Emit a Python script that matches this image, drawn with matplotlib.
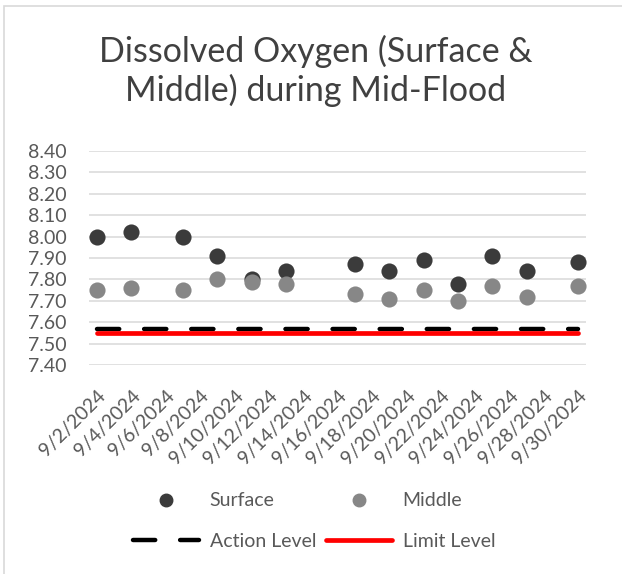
import matplotlib
matplotlib.use("Agg")
import matplotlib.pyplot as plt
import matplotlib.dates as mdates
import matplotlib.ticker as ticker
from matplotlib.lines import Line2D
from matplotlib.patches import Rectangle
from datetime import datetime, timedelta

plt.rcParams['font.family'] = ['Lato', 'DejaVu Sans']

# sampling dates and DO readings (mg/L)
sample_dates = ['2024-09-02', '2024-09-04', '2024-09-07', '2024-09-09', '2024-09-11',
                '2024-09-13', '2024-09-17', '2024-09-19', '2024-09-21', '2024-09-23',
                '2024-09-25', '2024-09-27', '2024-09-30']
surface = [8.00, 8.02, 8.00, 7.91, 7.80, 7.84, 7.87, 7.84, 7.89, 7.78, 7.91, 7.84, 7.88]
middle = [7.75, 7.76, 7.75, 7.80, 7.79, 7.78, 7.73, 7.71, 7.75, 7.70, 7.77, 7.72, 7.77]

level_dates = ['2024-09-02', '2024-09-30']
action_level = [7.57, 7.57]
limit_level = [7.55, 7.55]

tick_dates = [datetime(2024, 9, 2) + timedelta(days=2 * i) for i in range(15)]
tick_labels = [f"{d.month}/{d.day}/{d.year}" for d in tick_dates]

y_ticks = [7.40, 7.50, 7.60, 7.70, 7.80, 7.90, 8.00, 8.10, 8.20, 8.30, 8.40]

x = [datetime.strptime(d, '%Y-%m-%d') for d in sample_dates]
xl = [datetime.strptime(d, '%Y-%m-%d') for d in level_dates]

text_col = '#595959'
grid_col = '#d9d9d9'

fig = plt.figure(figsize=(6.22, 5.74), dpi=100)
ax = fig.add_axes([89 / 622, 1 - 365 / 574, (586 - 89) / 622, (365 - 151) / 574])

ax.scatter(x, surface, s=135, color='#3b3b3b', zorder=3, linewidths=0)
ax.scatter(x, middle, s=135, color='#878787', zorder=3, linewidths=0)
ax.plot(xl, action_level, color='black', lw=3.2, linestyle=(0, (5, 5.6)),
        dash_capstyle='round', solid_capstyle='round', zorder=4)
ax.plot(xl, limit_level, color='#ff0000', lw=3.4, solid_capstyle='round', zorder=5)

ax.set_xlim(mdates.date2num(datetime(2024, 9, 2)) - 0.47,
            mdates.date2num(datetime(2024, 9, 30)) + 0.45)
ax.set_ylim(7.40, 8.40)
ax.set_yticks(y_ticks)
ax.yaxis.set_major_formatter(ticker.FormatStrFormatter('%.2f'))
ax.set_xticks(mdates.date2num(tick_dates))
ax.set_xticklabels(tick_labels, rotation=45, ha='right', va='top',
                   rotation_mode='anchor')

ax.grid(axis='y', color=grid_col, lw=1.1)
ax.set_axisbelow(True)
for s in ax.spines.values():
    s.set_visible(False)
ax.tick_params(axis='both', length=0, colors=text_col, labelsize=14)
ax.tick_params(axis='y', pad=16)
ax.tick_params(axis='x', pad=16)

fig.text(0.507, 1 - 71 / 574, 'Dissolved Oxygen (Surface &\nMiddle) during Mid-Flood',
         ha='center', va='center', fontsize=24.5, color='#404040', linespacing=1.22)

handles = [
    Line2D([], [], marker='o', ls='none', color='#3b3b3b', markersize=9, label='Surface'),
    Line2D([], [], color='black', lw=3.2, linestyle=(0, (5, 5.6)),
           dash_capstyle='round', label='Action Level'),
    Line2D([], [], marker='o', ls='none', color='#878787', markersize=9, label='Middle'),
    Line2D([], [], color='#ff0000', lw=3.4, solid_capstyle='round', label='Limit Level'),
]
leg = fig.legend(handles=handles, ncol=2, loc='center',
                 bbox_to_anchor=(314 / 622, 1 - 521 / 574), frameon=False,
                 fontsize=14, handlelength=3.4, handletextpad=0.55,
                 columnspacing=0.5, labelspacing=1.2)
for t in leg.get_texts():
    t.set_color(text_col)

fig.patches.append(Rectangle((4 / 622, -0.1), 1.2, 1 - 6 / 574 + 0.1,
                             transform=fig.transFigure, fill=False,
                             edgecolor=grid_col, lw=1.2))

fig.savefig('out.png', dpi=100)
